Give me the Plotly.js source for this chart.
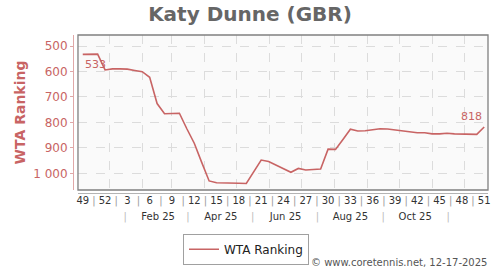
<!DOCTYPE html>
<html>
<head>
<meta charset="utf-8">
<script src="https://cdn.plot.ly/plotly-3.0.1.min.js"></script>
<style>html,body{margin:0;padding:0;background:#fff;}</style>
</head>
<body>
<div id="chart" style="width:500px;height:270px;"></div>
<script>
// Week-ending dates (Saturdays) of each weekly ranking
const dates = [
  '2024-12-07','2024-12-14','2024-12-21','2024-12-28',
  '2025-01-04','2025-01-11','2025-01-18','2025-01-25',
  '2025-02-01','2025-02-08','2025-02-15','2025-02-22',
  '2025-03-01','2025-03-08','2025-03-15','2025-03-22','2025-03-29',
  '2025-04-05','2025-04-12','2025-04-19','2025-04-26',
  '2025-05-03','2025-05-10','2025-05-17','2025-05-24','2025-05-31',
  '2025-06-07','2025-06-14','2025-06-21','2025-06-28',
  '2025-07-05','2025-07-12','2025-07-19','2025-07-26',
  '2025-08-02','2025-08-09','2025-08-16','2025-08-23','2025-08-30',
  '2025-09-06','2025-09-13','2025-09-20','2025-09-27',
  '2025-10-04','2025-10-11','2025-10-18','2025-10-25',
  '2025-11-01','2025-11-08','2025-11-15','2025-11-22','2025-11-29',
  '2025-12-06','2025-12-13','2025-12-20'
];
// ISO week numbers
const weeks = [49,50,51,52,1,2,3,4,5,6,7,8,9,10,11,12,13,14,15,16,17,18,19,20,21,22,23,24,25,26,27,28,29,30,31,32,33,34,35,36,37,38,39,40,41,42,43,44,45,46,47,48,49,50,51];
// WTA ranking
const ranks = [533,533,532,594,590,590,591,596,601,623,726,766,766,764,825,882,957,1030,1037,1037,1038,1039,1040,992,948,954,967,982,996,981,987,985,983,905,906,867,827,834,833,829,825,826,830,833,837,841,841,845,845,843,845,846,847,847,818];

const yTickVals = [500,600,700,800,900,1000];
const yTickText = ['500','600','700','800','900','1 000'];
const monthLabels = ['Feb 25','Apr 25','Jun 25','Aug 25','Oct 25'];
const monthLabelDates = ['2025-02-16','2025-04-16','2025-06-16','2025-08-16','2025-10-16'];
const monthSepDates = ['2025-01-16','2025-03-16','2025-05-16','2025-07-16','2025-09-16','2025-11-16'];

const FONT = 'DejaVu Sans, Verdana, sans-serif';
const RED = '#c86464';
const xRange = ['2024-12-02 12:00', '2025-12-23 14:00'];

// week tick labels every 3 weeks, separators between them
const wkVals = [], wkText = [];
for (let i = 0; i < dates.length; i += 3) {
  wkVals.push(dates[i]); wkText.push(String(weeks[i]));
  if (i + 3 < dates.length) {
    const a = new Date(dates[i] + 'T00:00:00Z').getTime();
    const b = new Date(dates[i + 3] + 'T00:00:00Z').getTime();
    wkVals.push(new Date((a + b) / 2).toISOString().slice(0, 16).replace('T', ' '));
    wkText.push('<span style="color:#9a9a9a">|</span>');
  }
}
const moVals = monthLabelDates.concat(monthSepDates);
const moText = monthLabels.concat(monthSepDates.map(() => '<span style="color:#bbbbbb">|</span>'));

const traces = [
  {x: dates, y: ranks, type: 'scatter', mode: 'lines', name: 'WTA Ranking',
   line: {color: RED, width: 1.6}, xaxis: 'x', yaxis: 'y', hoverinfo: 'skip'},
  {x: dates, y: ranks, type: 'scatter', mode: 'lines', showlegend: false, opacity: 0,
   line: {width: 0}, xaxis: 'x2', yaxis: 'y', hoverinfo: 'skip'},
  {x: dates, y: ranks, type: 'scatter', mode: 'lines', showlegend: false, opacity: 0,
   line: {width: 0}, xaxis: 'x3', yaxis: 'y', hoverinfo: 'skip'}
];

const overlayX = {
  type: 'date', range: xRange, overlaying: 'x', anchor: 'free', position: 0,
  showgrid: false, zeroline: false, showline: false, ticks: '', tickangle: 0,
  automargin: false,
  tickmode: 'array', tickfont: {family: FONT, size: 10, color: '#333'}
};

const layout = {
  width: 500, height: 270,
  margin: {l: 60, r: 12, t: 35, b: 77},
  paper_bgcolor: '#ffffff', plot_bgcolor: '#fafafa',
  font: {family: FONT},
  title: {text: 'Katy Dunne (GBR)', x: 0.5, xanchor: 'center', y: 0.948, yanchor: 'middle',
          font: {family: FONT, size: 20, weight: 'bold', color: '#666666'}},
  showlegend: true,
  legend: {orientation: 'h', xref: 'container', yref: 'container',
           x: 0.492, xanchor: 'center', y: 0.134, yanchor: 'top',
           bordercolor: '#a0a0a0', borderwidth: 1, bgcolor: '#ffffff',
           font: {family: FONT, size: 12, color: '#222'}},
  xaxis: {type: 'date', range: xRange, domain: [0.042, 1], anchor: 'free', position: 0,
          automargin: false,
          tick0: '2025-01-01', dtick: 'M1', showticklabels: false, ticks: '',
          showgrid: true, gridcolor: '#dcdcdc', griddash: 'dash', gridwidth: 1,
          showline: true, linecolor: '#b4b4b4', linewidth: 1, zeroline: false},
  xaxis2: Object.assign({}, overlayX, {tickvals: wkVals, ticktext: wkText}),
  xaxis3: Object.assign({}, overlayX, {tickvals: moVals, ticktext: moText, ticklabelstandoff: 16}),
  yaxis: {range: [1065.6, 456.8], domain: [0.019, 1], anchor: 'free', position: 0.0304,
          automargin: false,
          tickmode: 'array', tickvals: yTickVals, ticktext: yTickText,
          tickfont: {family: FONT, size: 12, color: RED},
          ticks: 'outside', ticklen: 3, tickcolor: '#e0a8a8',
          showline: true, linecolor: '#e0a8a8', linewidth: 1,
          showgrid: true, gridcolor: '#dcdcdc', griddash: 'dash', gridwidth: 1, zeroline: false,
          title: {text: 'WTA Ranking', standoff: 3, font: {family: FONT, size: 14, weight: 'bold', color: RED}}},
  shapes: [
    {type: 'rect', xref: 'x domain', yref: 'y domain', x0: 0, x1: 1, y0: 0, y1: 1,
     line: {color: '#808080', width: 1.3}, fillcolor: 'rgba(0,0,0,0)', layer: 'above'}
  ],
  annotations: [
    {xref: 'x', yref: 'y', x: dates[0], y: ranks[0], text: String(ranks[0]), showarrow: false,
     xanchor: 'left', yanchor: 'top', yshift: -2, font: {family: FONT, size: 11, color: RED}},
    {xref: 'x', yref: 'y', x: dates[dates.length - 1], y: ranks[ranks.length - 1],
     text: String(ranks[ranks.length - 1]), showarrow: false,
     xanchor: 'right', yanchor: 'bottom', yshift: 2, font: {family: FONT, size: 11, color: RED}},
    {xref: 'paper', yref: 'paper', x: 1.003, y: -0.443, xanchor: 'right', yanchor: 'middle',
     text: '© www.coretennis.net, 12-17-2025', showarrow: false,
     font: {family: FONT, size: 10, color: '#555555'}}
  ]
};

Plotly.newPlot('chart', traces, layout, {displayModeBar: false, staticPlot: true});
</script>
</body>
</html>
